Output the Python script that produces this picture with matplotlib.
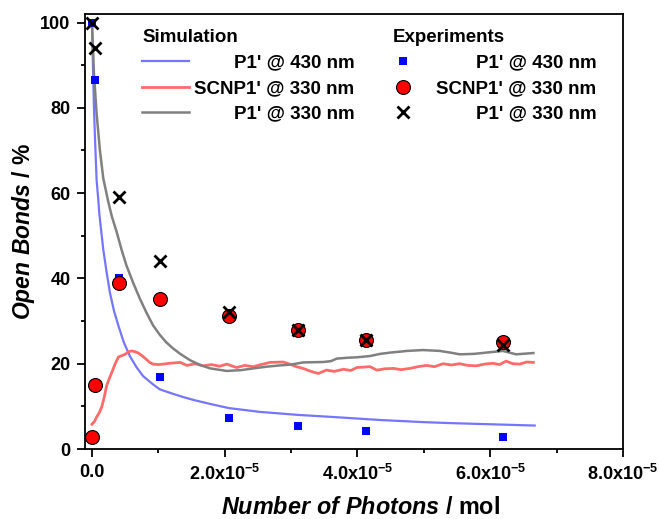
import numpy as np
import matplotlib
matplotlib.use('Agg')
import matplotlib.pyplot as plt
from matplotlib.ticker import MultipleLocator

plt.rcParams['font.family'] = 'Liberation Sans'
plt.rcParams['font.weight'] = 'bold'
plt.rcParams['axes.labelweight'] = 'bold'
plt.rcParams['mathtext.fontset'] = 'custom'
plt.rcParams['mathtext.rm'] = 'Liberation Sans:bold'
plt.rcParams['mathtext.it'] = 'Liberation Sans:italic:bold'
plt.rcParams['mathtext.bf'] = 'Liberation Sans:bold'

# simulation curves (x in units of 1e-5 mol, y in % open bonds)
sim_430_x = [0.0, 0.01, 0.03, 0.05, 0.07, 0.095, 0.11, 0.14, 0.17, 0.22, 0.27, 0.33,
             0.40, 0.48, 0.57, 0.67, 0.77, 0.90, 1.02, 1.17, 1.37, 1.53, 1.80, 2.06,
             2.53, 3.10, 3.53, 4.04, 4.34, 5.00, 5.34, 6.00, 6.67]
sim_430_y = [100, 93, 80, 71, 63, 58.5, 55.3, 51, 46.8, 41.5, 36.7, 32.5,
             28.8, 25.0, 21.8, 19.2, 17.1, 15.4, 14.0, 13.2, 12.2, 11.5, 10.5, 9.6,
             8.7, 8.0, 7.6, 7.1, 6.8, 6.3, 6.1, 5.8, 5.5]

sim_scnp_x = [0.0, 0.04, 0.07, 0.11, 0.15, 0.19, 0.22, 0.26, 0.30, 0.35, 0.40, 0.45,
              0.50, 0.55, 0.60, 0.65, 0.70, 0.76, 0.82, 0.87, 0.92, 1.00, 1.07,
              1.17, 1.33, 1.43, 1.55, 1.68, 1.80, 1.92, 2.03, 2.18, 2.30, 2.43, 2.55,
              2.68, 2.88, 2.98, 3.08, 3.18, 3.28, 3.41, 3.53, 3.65, 3.79, 3.90, 3.99,
              4.19, 4.29, 4.41, 4.54, 4.66, 4.79, 4.91, 5.04, 5.16, 5.29, 5.41, 5.54,
              5.66, 5.79, 5.91, 6.04, 6.14, 6.24, 6.34, 6.44, 6.55, 6.65]
sim_scnp_y = [5.8, 6.5, 7.5, 8.5, 10.0, 12.5, 14.8, 16.5, 18.0, 20.0, 21.6, 21.9,
              22.2, 22.8, 23.0, 22.8, 22.5, 21.8, 21.0, 20.3, 19.9, 19.8, 19.9,
              20.1, 20.3, 19.6, 20.0, 19.5, 19.8, 19.4, 19.9, 19.1, 19.6, 19.3, 19.8,
              20.3, 20.4, 19.9, 19.3, 18.9, 18.3, 17.7, 18.5, 18.2, 18.7, 18.4, 19.1,
              19.3, 18.5, 18.8, 18.9, 18.6, 18.9, 19.3, 19.6, 19.3, 20.0, 19.7, 20.0,
              19.6, 19.5, 19.9, 20.1, 19.8, 20.6, 20.0, 19.9, 20.4, 20.3]

sim_p1_330_x = [0.0, 0.03, 0.07, 0.12, 0.17, 0.245, 0.30, 0.37, 0.45, 0.52, 0.62, 0.72,
                0.82, 0.92, 1.02, 1.12, 1.22, 1.33, 1.48, 1.63, 1.78, 2.03, 2.25, 2.43,
                2.63, 2.83, 3.00, 3.18, 3.48, 3.60, 3.69, 3.85, 3.99, 4.19, 4.34, 4.49,
                4.75, 4.99, 5.24, 5.40, 5.54, 5.75, 5.94, 6.19, 6.39, 6.65]
sim_p1_330_y = [100, 88, 78.6, 70, 63.5, 58, 54.5, 51, 46.5, 43, 39, 35.3,
                32, 29, 26.8, 25, 23.6, 22.3, 20.8, 19.7, 18.9, 18.3, 18.5, 18.9,
                19.3, 19.6, 19.8, 20.3, 20.4, 20.6, 21.2, 21.4, 21.5, 21.8, 22.3, 22.6,
                23.0, 23.2, 23.0, 22.6, 22.2, 22.3, 22.6, 23.0, 22.2, 22.5]

# experiments
exp_430_x = [0.0, 0.04, 0.41, 1.03, 2.06, 3.10, 4.13, 6.19]
exp_430_y = [100, 86.5, 40.0, 17.0, 7.2, 5.4, 4.2, 2.8]

exp_scnp_x = [0.0, 0.04, 0.41, 1.03, 2.06, 3.10, 4.13, 6.19]
exp_scnp_y = [2.7, 15.0, 39.0, 35.2, 31.2, 28.0, 25.5, 25.0]

exp_p1_330_x = [0.0, 0.04, 0.41, 1.03, 2.06, 3.10, 4.13, 6.19]
exp_p1_330_y = [100, 94.0, 59.2, 44.2, 32.2, 28.0, 25.6, 24.5]

labels = ["P1' @ 430 nm", "SCNP1' @ 330 nm", "P1' @ 330 nm"]
xticks = [0, 2e-5, 4e-5, 6e-5, 8e-5]
xtick_labels = ['0.0', r'2.0x10$^{-5}$', r'4.0x10$^{-5}$', r'6.0x10$^{-5}$', r'8.0x10$^{-5}$']

sc = 1e-5
fig = plt.figure(figsize=(6.59, 5.19), dpi=100)
ax = fig.add_axes([85 / 659, 1 - 449 / 519, 538 / 659, 435 / 519])

l1, = ax.plot(np.array(sim_430_x) * sc, sim_430_y, color='#7575ff', lw=1.6)
l2, = ax.plot(np.array(sim_scnp_x) * sc, sim_scnp_y, color='#ff6b6b', lw=2.0)
l3, = ax.plot(np.array(sim_p1_330_x) * sc, sim_p1_330_y, color='#808080', lw=1.8)

m1, = ax.plot(np.array(exp_430_x) * sc, exp_430_y, 's', color='#0000ff', ms=6.2, mew=0)
m2, = ax.plot(np.array(exp_scnp_x) * sc, exp_scnp_y, 'o', mfc='#ff0000', mec='black',
              mew=0.8, ms=10)
m3, = ax.plot(np.array(exp_p1_330_x) * sc, exp_p1_330_y, 'x', color='black', ms=8.5, mew=2)

ax.set_xlim(-1.05e-6, 8e-5)
ax.set_ylim(0, 102)
ax.set_xticks(xticks)
ax.set_xticklabels(xtick_labels)
ax.set_yticks([0, 20, 40, 60, 80, 100])
ax.xaxis.set_minor_locator(MultipleLocator(1e-5))
ax.yaxis.set_minor_locator(MultipleLocator(10))
ax.tick_params(which='major', direction='out', length=5.5, width=1.3, labelsize=13, pad=5)
ax.tick_params(which='minor', direction='out', length=3, width=1.3)
for s in ax.spines.values():
    s.set_linewidth(1.3)

ax.set_xlabel(r'$\mathit{Number\ of\ Photons}$ / mol', fontsize=16.8, fontweight='bold',
              labelpad=9, x=0.513)
ax.set_ylabel(r'$\mathit{Open\ Bonds}$ / %', fontsize=16.5, fontweight='bold', labelpad=2)

common = dict(loc='upper left', bbox_transform=fig.transFigure, frameon=False, fontsize=13.5,
              title_fontproperties={'weight': 'bold', 'size': 13.5}, alignment='left',
              borderpad=0, borderaxespad=0, labelspacing=0.45)
leg1 = ax.legend([l1, l2, l3], labels, title='Simulation',
                 bbox_to_anchor=(142 / 659, 1 - 29 / 519),
                 handlelength=2.5, handletextpad=0.3, **common)
ax.add_artist(leg1)
leg2 = ax.legend([m1, m2, m3], labels, title='Experiments',
                 bbox_to_anchor=(393 / 659, 1 - 29 / 519),
                 handlelength=1.1, handletextpad=1.2, numpoints=1, **common)

# right-align legend labels (offset is in pixels)
fig.canvas.draw()
for leg in (leg1, leg2):
    texts = leg.get_texts()
    widths = [t.get_window_extent().width for t in texts]
    w = max(widths)
    for t, wi in zip(texts, widths):
        t.set_position((w - wi, 0))

fig.savefig('out.png', dpi=100)
